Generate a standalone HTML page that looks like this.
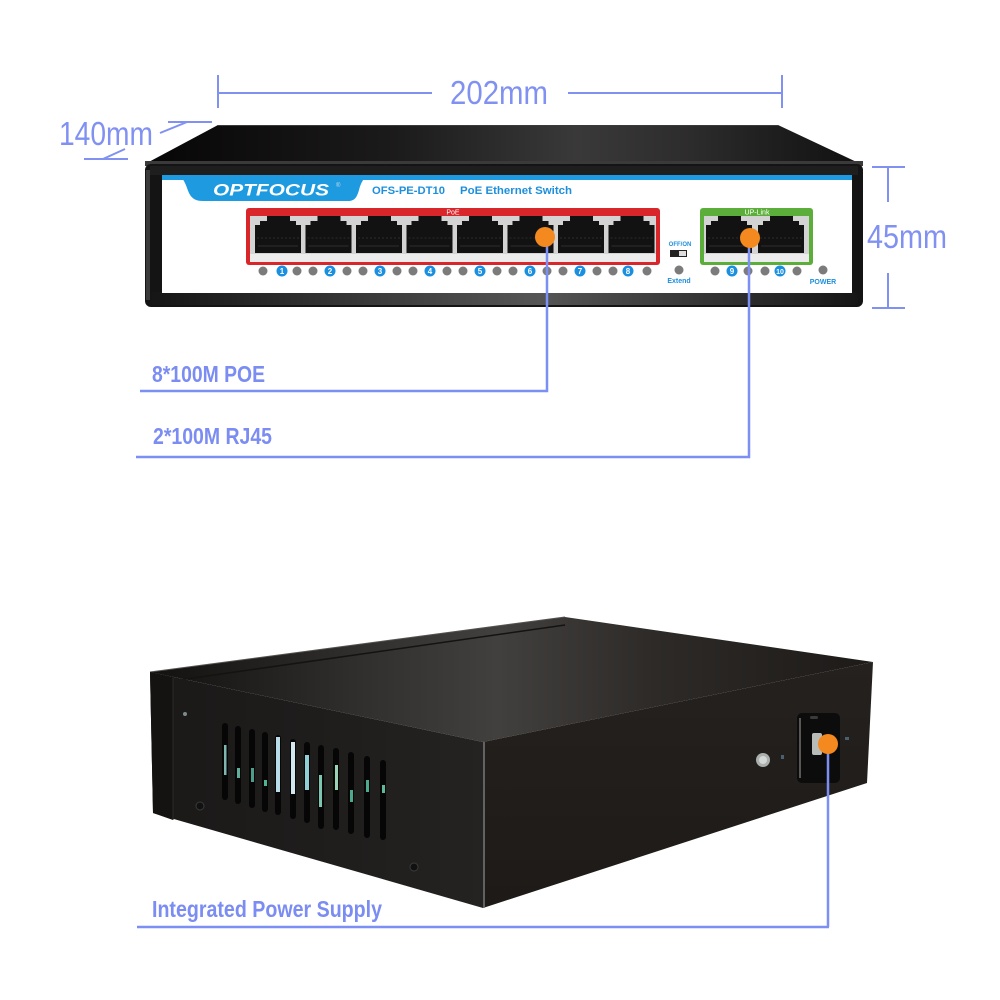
<!DOCTYPE html>
<html><head><meta charset="utf-8"><style>
html,body{margin:0;padding:0;background:#fff;}
svg{display:block;}
text{font-family:"Liberation Sans",Arial,sans-serif;}
</style></head><body>
<svg width="1000" height="1000" viewBox="0 0 1000 1000" xmlns="http://www.w3.org/2000/svg">
<defs>
<linearGradient id="topA" x1="0" y1="0" x2="1" y2="0">
<stop offset="0" stop-color="#070606"/><stop offset="0.35" stop-color="#1c1b1b"/><stop offset="0.6" stop-color="#3a3939"/><stop offset="0.75" stop-color="#2e2d2d"/><stop offset="1" stop-color="#101010"/>
</linearGradient>
<linearGradient id="bezel" x1="0" y1="0" x2="1" y2="0">
<stop offset="0" stop-color="#151515"/><stop offset="0.45" stop-color="#4a4a4a"/><stop offset="0.55" stop-color="#555"/><stop offset="1" stop-color="#161616"/>
</linearGradient>
<linearGradient id="topB" x1="150" y1="0" x2="873" y2="0" gradientUnits="userSpaceOnUse">
<stop offset="0" stop-color="#121110"/><stop offset="0.3" stop-color="#32302e"/><stop offset="0.48" stop-color="#42403e"/><stop offset="0.7" stop-color="#2d2a28"/><stop offset="1" stop-color="#1d1a18"/>
</linearGradient>
<linearGradient id="leftB" x1="0" y1="0" x2="1" y2="0">
<stop offset="0" stop-color="#1a1918"/><stop offset="0.6" stop-color="#201e1d"/><stop offset="1" stop-color="#252321"/>
</linearGradient>
<linearGradient id="rightB" x1="0" y1="0" x2="0" y2="1">
<stop offset="0" stop-color="#25211e"/><stop offset="1" stop-color="#1e1a18"/>
</linearGradient>
<g id="port">
<path d="M0,9 H5 V5 H12 V0 H35 V5 H41 V9 H46 V37 H0 Z" fill="#121212"/>
<path d="M2,22 H44" stroke="#2c2c2c" stroke-width="1" stroke-dasharray="2 2"/>
<path d="M3,30 H43" stroke="#252525" stroke-width="1.5"/>
</g>
<circle id="led" r="4.5" fill="#7b7b7b"/>
</defs>

<!-- ========== TOP SWITCH ========== -->
<polygon points="218,125 778,125 863,165 145,164" fill="url(#topA)"/>
<line x1="218" y1="125.5" x2="778" y2="125.5" stroke="#3a3a3a" stroke-width="1"/>
<rect x="145" y="161" width="718" height="5" fill="#3a3a3a"/>
<rect x="145" y="164" width="718" height="143" rx="6" fill="#141414"/>
<rect x="150" y="292" width="708" height="13" rx="4" fill="url(#bezel)"/>
<rect x="150" y="166" width="708" height="9" fill="#1e1e1e"/>
<rect x="146" y="170" width="4" height="130" fill="#3a3a3a"/>
<rect x="162" y="175" width="690" height="118" fill="#ffffff"/>
<rect x="162" y="175" width="690" height="5" fill="#1e9ae0"/>
<path d="M176,175 C184,176 186,186 189,193 C192,199 196,201 203,201 H348 C355,201 357,197 359,190 C361,182 364,177 370,175 Z" fill="#1e9ae0"/>
<text x="213" y="195.5" font-size="17" font-weight="bold" font-style="italic" fill="#fff" textLength="116" lengthAdjust="spacingAndGlyphs">OPTFOCUS</text>
<text x="336" y="187" font-size="6" fill="#cde">®</text>
<text x="372" y="194" font-size="11" font-weight="bold" fill="#1e8fdc" textLength="73" lengthAdjust="spacingAndGlyphs">OFS-PE-DT10</text>
<text x="460" y="194" font-size="11" font-weight="bold" fill="#1e8fdc" textLength="112" lengthAdjust="spacingAndGlyphs">PoE Ethernet Switch</text>

<!-- PoE box -->
<rect x="246" y="208" width="414" height="57" rx="3" fill="#d8262b"/>
<rect x="250" y="216" width="406" height="46" fill="#d3d3d3"/>
<rect x="250" y="254" width="406" height="8" fill="#ececec"/>
<text x="453" y="214.5" font-size="7" fill="#fff" text-anchor="middle">PoE</text>
<use href="#port" x="255" y="216"/>
<use href="#port" x="305.5" y="216"/>
<use href="#port" x="356" y="216"/>
<use href="#port" x="406.5" y="216"/>
<use href="#port" x="457" y="216"/>
<use href="#port" x="507.5" y="216"/>
<use href="#port" x="558" y="216"/>
<use href="#port" x="608.5" y="216"/>

<!-- Uplink box -->
<rect x="700" y="208" width="113" height="57" rx="3" fill="#5cae3b"/>
<rect x="704" y="216" width="105" height="46" fill="#d3d3d3"/>
<rect x="704" y="254" width="105" height="8" fill="#ececec"/>
<text x="757" y="214.5" font-size="7" fill="#fff" text-anchor="middle">UP-Link</text>
<use href="#port" x="706" y="216"/>
<use href="#port" x="758" y="216"/>

<!-- LEDs -->
<g>
<use href="#led" x="263" y="271"/><use href="#led" x="297" y="271"/>
<use href="#led" x="313" y="271"/><use href="#led" x="347" y="271"/>
<use href="#led" x="363" y="271"/><use href="#led" x="397" y="271"/>
<use href="#led" x="413" y="271"/><use href="#led" x="447" y="271"/>
<use href="#led" x="463" y="271"/><use href="#led" x="497" y="271"/>
<use href="#led" x="513" y="271"/><use href="#led" x="547" y="271"/>
<use href="#led" x="563" y="271"/><use href="#led" x="597" y="271"/>
<use href="#led" x="613" y="271"/><use href="#led" x="647" y="271"/>
<use href="#led" x="679" y="270"/>
<use href="#led" x="715" y="271"/><use href="#led" x="748" y="271"/>
<use href="#led" x="765" y="271"/><use href="#led" x="797" y="271"/>
<use href="#led" x="823" y="270"/>
</g>
<g fill="#1a8fe0">
<circle cx="282" cy="271" r="5.5"/><circle cx="330" cy="271" r="5.5"/><circle cx="380" cy="271" r="5.5"/><circle cx="430" cy="271" r="5.5"/>
<circle cx="480" cy="271" r="5.5"/><circle cx="530" cy="271" r="5.5"/><circle cx="580" cy="271" r="5.5"/><circle cx="628" cy="271" r="5.5"/>
<circle cx="732" cy="271" r="5.5"/><circle cx="780" cy="271" r="5.5"/>
</g>
<g font-size="8" font-weight="bold" fill="#fff" text-anchor="middle">
<text x="282" y="274">1</text><text x="330" y="274">2</text><text x="380" y="274">3</text><text x="430" y="274">4</text>
<text x="480" y="274">5</text><text x="530" y="274">6</text><text x="580" y="274">7</text><text x="628" y="274">8</text>
<text x="732" y="274">9</text><text x="780" y="274" font-size="7">10</text>
</g>
<text x="680" y="246" font-size="6" font-weight="bold" fill="#1e8fdc" text-anchor="middle">OFF/ON</text>
<rect x="670" y="250" width="17" height="7" fill="#222"/>
<rect x="679" y="251" width="7" height="5" fill="#ddd"/>
<text x="679" y="283" font-size="7" font-weight="bold" fill="#1e8fdc" text-anchor="middle">Extend</text>
<text x="823" y="284" font-size="7" font-weight="bold" fill="#1e8fdc" text-anchor="middle">POWER</text>

<!-- callout lines top -->
<g stroke="#7b8ff5" stroke-width="2.5" fill="none">
<polyline points="140,391 547,391 547,237"/>
<polyline points="136,457 749,457 749,238"/>
</g>
<circle cx="545" cy="237" r="10" fill="#f4891f"/>
<circle cx="750" cy="238" r="10" fill="#f4891f"/>
<g font-size="23" font-weight="bold" fill="#7b8cf2">
<text x="152" y="382" textLength="113" lengthAdjust="spacingAndGlyphs">8*100M POE</text>
<text x="153" y="444" textLength="119" lengthAdjust="spacingAndGlyphs">2*100M RJ45</text>
</g>

<!-- dimensions -->
<g stroke="#8091f2" stroke-width="2" fill="none">
<line x1="218" y1="75" x2="218" y2="108"/>
<line x1="218" y1="93" x2="432" y2="93"/>
<line x1="568" y1="93" x2="782" y2="93"/>
<line x1="782" y1="75" x2="782" y2="108"/>
<line x1="168" y1="122" x2="212" y2="122"/>
<line x1="160" y1="133" x2="187" y2="122"/>
<line x1="84" y1="159" x2="128" y2="159"/>
<line x1="103" y1="159" x2="125" y2="149"/>
<line x1="872" y1="167" x2="905" y2="167"/>
<line x1="888" y1="167" x2="888" y2="202"/>
<line x1="888" y1="273" x2="888" y2="308"/>
<line x1="872" y1="308" x2="905" y2="308"/>
</g>
<g font-size="33" fill="#8091f2">
<text x="450" y="104" textLength="98" lengthAdjust="spacingAndGlyphs">202mm</text>
<text x="59" y="145" textLength="94" lengthAdjust="spacingAndGlyphs">140mm</text>
<text x="867" y="248" textLength="80" lengthAdjust="spacingAndGlyphs">45mm</text>
</g>

<!-- ========== BOTTOM BOX ========== -->
<polygon points="150,672 565,617 873,662 483,742" fill="url(#topB)"/>
<line x1="172" y1="681" x2="565" y2="625" stroke="#151312" stroke-width="1.5"/>
<line x1="150" y1="672" x2="565" y2="617" stroke="#55524f" stroke-width="1"/>
<polygon points="483,742 873,662 867,783 483,908" fill="url(#rightB)"/>
<polygon points="150,672 483,742 483,908 153,813" fill="url(#leftB)"/>
<polygon points="150,672 173,677 173,820 153,813" fill="#141312"/>
<line x1="173" y1="678" x2="173" y2="820" stroke="#2c2a29" stroke-width="1"/>
<line x1="484" y1="742" x2="484" y2="908" stroke="#77797a" stroke-width="1.5"/>

<!-- vents -->
<g>
<rect x="222" y="723" width="6" height="77" rx="3" fill="#060606"/>
<rect x="235" y="726" width="6" height="78" rx="3" fill="#060606"/>
<rect x="249" y="729" width="6" height="79" rx="3" fill="#060606"/>
<rect x="262" y="732" width="6" height="80" rx="3" fill="#060606"/>
<rect x="275" y="735" width="6" height="80" rx="3" fill="#060606"/>
<rect x="290" y="739" width="6" height="80" rx="3" fill="#060606"/>
<rect x="304" y="742" width="6" height="81" rx="3" fill="#060606"/>
<rect x="318" y="745" width="6" height="84" rx="3" fill="#060606"/>
<rect x="333" y="748" width="6" height="82" rx="3" fill="#060606"/>
<rect x="348" y="752" width="6" height="82" rx="3" fill="#060606"/>
<rect x="364" y="756" width="6" height="82" rx="3" fill="#060606"/>
<rect x="380" y="760" width="6" height="80" rx="3" fill="#060606"/>
<rect x="224" y="745" width="2.5" height="30" fill="#7fb7b0"/>
<rect x="237" y="768" width="3" height="10" fill="#5fae9a"/>
<rect x="251" y="768" width="3" height="14" fill="#4d9e88"/>
<rect x="264" y="780" width="3" height="6" fill="#4fb394"/>
<rect x="276" y="737" width="4" height="55" fill="#b8dde8"/>
<rect x="291" y="742" width="4" height="52" fill="#d0e8ee"/>
<rect x="305" y="755" width="4" height="35" fill="#8fd0d8"/>
<rect x="319" y="775" width="3" height="32" fill="#7cc6b0"/>
<rect x="335" y="765" width="3" height="25" fill="#9bd4b4"/>
<rect x="350" y="790" width="3" height="12" fill="#4da88e"/>
<rect x="366" y="780" width="3" height="12" fill="#4fa98f"/>
<rect x="382" y="785" width="3" height="8" fill="#5cb899"/>
</g>
<circle cx="185" cy="714" r="2" fill="#7d8a8c"/>
<circle cx="200" cy="806" r="4" fill="#111" stroke="#3a3a3a" stroke-width="1"/>
<circle cx="414" cy="867" r="4" fill="#111" stroke="#3a3a3a" stroke-width="1"/>

<!-- power socket -->
<rect x="797" y="713" width="43" height="70" rx="5" fill="#0d0c0c"/>
<path d="M800,718 V778" stroke="#5a5656" stroke-width="2"/>
<rect x="810" y="716" width="8" height="3" rx="1.5" fill="#3a3a3a"/>
<rect x="812" y="733" width="10" height="22" rx="2" fill="#b8bcb8"/>
<circle cx="763" cy="760" r="7" fill="#a9b0ae"/>
<circle cx="763" cy="760" r="4" fill="#d4d8d6"/>
<rect x="781" y="755" width="3" height="4" fill="#4a6070"/>
<rect x="845" y="737" width="4" height="3" fill="#4a6070"/>

<line x1="137" y1="927" x2="829" y2="927" stroke="#7b8ff5" stroke-width="2.5"/>
<line x1="828" y1="744" x2="828" y2="927" stroke="#7b8ff5" stroke-width="2.5"/>
<circle cx="828" cy="744" r="10" fill="#f4891f"/>
<text x="152" y="917" font-size="23" font-weight="bold" fill="#7b8cf2" textLength="230" lengthAdjust="spacingAndGlyphs">Integrated Power Supply</text>
</svg>
</body></html>
